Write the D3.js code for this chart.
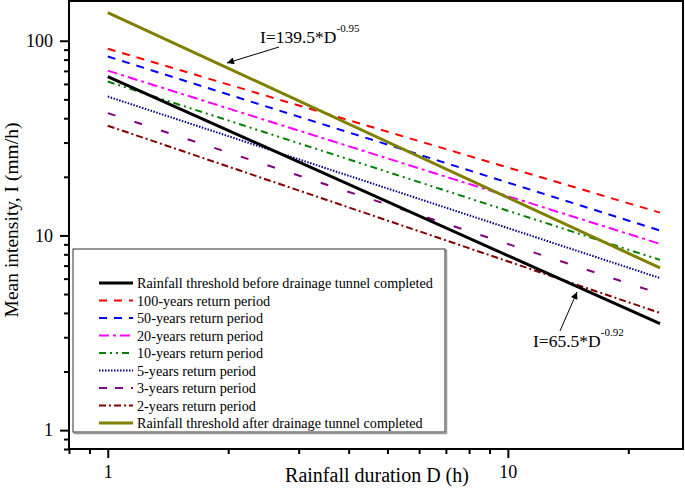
<!DOCTYPE html>
<html><head><meta charset="utf-8">
<script src="https://cdn.jsdelivr.net/npm/d3@7"></script>
<style>body{margin:0;background:#fff}svg{display:block}text{font-family:"Liberation Serif","Times New Roman",serif;fill:#000}</style>
</head><body><svg id="c" width="685" height="492"></svg>
<script>
// ---- data ----
const durations = [1, 24];
const seriesNames = [
  "Rainfall threshold before drainage tunnel completed",
  "100-years return period",
  "50-years return period",
  "20-years return period",
  "10-years return period",
  "5-years return period",
  "3-years return period",
  "2-years return period",
  "Rainfall threshold after drainage tunnel completed"
];
const thresholdBefore = [65.5, 3.52];
const rp100 = [91.0, 13.1];
const rp50  = [83.0, 10.6];
const rp20  = [70.2, 9.05];
const rp10  = [61.7, 7.49];
const rp5   = [51.7, 6.04];
const rp3   = [42.5, 5.02];
const rp2   = [36.6, 4.0];
const thresholdAfter = [139.5, 6.81];
const xMajorTicks = [1, 10];
const xMinorTicks = [0.8, 0.9, 2, 3, 4, 5, 6, 7, 8, 9, 20];
const yMajorTicks = [1, 10, 100];
const yMinorTicks = [0.8, 0.9, 2, 3, 4, 5, 6, 7, 8, 9, 20, 30, 40, 50, 60, 70, 80, 90];
const annotBefore = {text: "I=65.5*D", exp: "-0.92"};
const annotAfter  = {text: "I=139.5*D", exp: "-0.95"};

// ---- styles ----
const styles = [
  {color: "#000000", width: 3, dash: null},
  {color: "#ff0000", width: 2, dash: "8,7"},
  {color: "#0000ff", width: 2, dash: "8,7"},
  {color: "#ff00ff", width: 2, dash: "10,4,3,4"},
  {color: "#008000", width: 2, dash: "7,4,2,4,2,4"},
  {color: "#000080", width: 2, dash: "1.5,1.5"},
  {color: "#800080", width: 2, dash: "8,20", legendDash: "8,8"},
  {color: "#800000", width: 2, dash: "7,3,2,3"},
  {color: "#808000", width: 3, dash: null}
];
const seriesValues = [thresholdBefore, rp100, rp50, rp20, rp10, rp5, rp3, rp2, thresholdAfter];

const svg = d3.select("#c");
const L = 69, R = 683, T = 1, B = 449;
const x = d3.scaleLog().domain([0.8, 27.4]).range([L, R]);
const y = d3.scaleLog().domain([0.8, 160]).range([B, T]);

// lines
const line = d3.line().x(d => x(d[0])).y(d => y(d[1]));
const plot = svg.append("g");
const order = [1,2,3,4,5,6,7,0,8];
order.forEach(i => {
  const pts = durations.map((d, k) => [d, seriesValues[i][k]]);
  plot.append("path").attr("d", line(pts)).attr("fill", "none")
    .attr("stroke", styles[i].color).attr("stroke-width", styles[i].width)
    .attr("stroke-dasharray", styles[i].dash);
});

// axes
const fmt = d => d3.format("d")(d);
const xa = svg.append("g").attr("transform", `translate(0,${B})`)
  .call(d3.axisBottom(x).tickValues(xMajorTicks).tickFormat(fmt).tickSize(9).tickPadding(7).tickSizeOuter(0));
const xm = svg.append("g").attr("transform", `translate(0,${B})`)
  .call(d3.axisBottom(x).tickValues(xMinorTicks).tickFormat("").tickSize(5).tickSizeOuter(0));
const ya = svg.append("g").attr("transform", `translate(${L},0)`)
  .call(d3.axisLeft(y).tickValues(yMajorTicks).tickFormat(fmt).tickSize(9).tickPadding(7).tickSizeOuter(0));
const ym = svg.append("g").attr("transform", `translate(${L},0)`)
  .call(d3.axisLeft(y).tickValues(yMinorTicks).tickFormat("").tickSize(5).tickSizeOuter(0));
[xa, xm, ya, ym].forEach(g => {
  g.select(".domain").remove();
  g.selectAll(".tick line").attr("stroke", "#000").attr("stroke-width", 2);
  g.selectAll(".tick text").attr("font-size", 18).attr("font-family", "Liberation Serif, Times New Roman, serif").attr("fill", "#000");
});

// frame
svg.append("rect").attr("x", L).attr("y", T).attr("width", R - L).attr("height", B - T)
  .attr("fill", "none").attr("stroke", "#000").attr("stroke-width", 2);

// axis titles
svg.append("text").attr("x", 377).attr("y", 482).attr("text-anchor", "middle")
  .attr("font-size", 20).text("Rainfall duration D (h)");
svg.append("text").attr("transform", "translate(18,220) rotate(-90)").attr("text-anchor", "middle")
  .attr("font-size", 19.5).text("Mean intensity, I (mm/h)");

// legend
const lg = svg.append("g");
lg.append("rect").attr("x", 74.5).attr("y", 250.5).attr("width", 372).attr("height", 183)
  .attr("fill", "none").attr("stroke", "#999").attr("stroke-width", 1.5);
lg.append("rect").attr("x", 73).attr("y", 249).attr("width", 372).attr("height", 183)
  .attr("fill", "#fff").attr("stroke", "#333").attr("stroke-width", 1);
seriesNames.forEach((name, i) => {
  const cy = 283 + i * 17.5;
  lg.append("line").attr("x1", 99).attr("x2", 133).attr("y1", cy).attr("y2", cy)
    .attr("stroke", styles[i].color).attr("stroke-width", styles[i].width)
    .attr("stroke-dasharray", styles[i].legendDash || styles[i].dash);
  lg.append("text").attr("x", 137).attr("y", cy + 5).attr("font-size", 14.2).text(name);
});

// annotations
svg.append("defs").append("marker").attr("id", "ah").attr("viewBox", "0 0 10 10")
  .attr("refX", 10).attr("refY", 5).attr("markerWidth", 9).attr("markerHeight", 7)
  .attr("markerUnits", "userSpaceOnUse").attr("orient", "auto")
  .append("path").attr("d", "M0,0L10,5L0,10z").attr("fill", "#000");

function annot(a, tx, ty, x1, y1, x2, y2) {
  svg.append("line").attr("x1", x1).attr("y1", y1).attr("x2", x2).attr("y2", y2)
    .attr("stroke", "#000").attr("stroke-width", 1).attr("marker-end", "url(#ah)");
  const t = svg.append("text").attr("x", tx).attr("y", ty).attr("font-size", 17.5);
  t.append("tspan").text(a.text);
  t.append("tspan").attr("dy", -11).attr("font-size", 11).text(a.exp);
}
annot(annotAfter, 260, 43, 279, 47, 227, 63);
annot(annotBefore, 533, 347, 560, 331, 577, 292);
</script></body></html>
